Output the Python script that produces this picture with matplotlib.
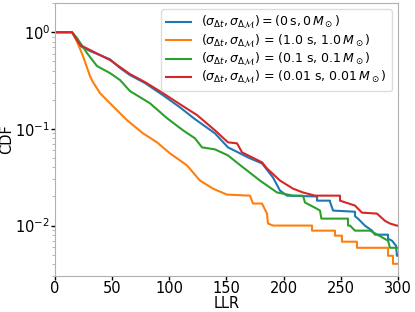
import numpy as np
import matplotlib
matplotlib.use('Agg')
import matplotlib.pyplot as plt

# survival curves (LLR, CDF)
llr_0 = [0, 14.9, 21.9, 30.6, 48.1, 56.9, 65.6, 78.7, 94.5, 109.3, 122.5, 139.9, 151.3,
         160.1, 168.8, 181.1, 190.7, 196.8, 202.9, 229.2, 229.2, 240.5, 240.5, 243.2,
         262.4, 262.4, 265.0, 271.1, 277.3, 279.9, 291.3, 291.3, 294.8, 298.3, 299.1, 300]
cdf_0 = [1, 1, 0.721, 0.640, 0.525, 0.426, 0.360, 0.298, 0.223, 0.167, 0.126, 0.0900, 0.0644,
         0.0572, 0.0507, 0.0439, 0.0314, 0.0230, 0.0204, 0.0200, 0.0181, 0.0181, 0.0177, 0.0143,
         0.0139, 0.0125, 0.0118, 0.00998, 0.00886, 0.00805, 0.00805, 0.00730, 0.00697, 0.00618, 0.00487, 0.00487]

llr_1 = [0, 14.9, 17.5, 24.5, 30.6, 33.2, 39.4, 48.1, 63.0, 77.0, 89.2, 100.6, 115.5, 126.8,
         138.2, 150.4, 170.6, 173.2, 181.1, 185.4, 186.3, 190.7, 224.8, 224.8, 244.9, 244.9,
         251.0, 251.0, 264.1, 264.1, 291.3, 291.3, 295.6, 295.6, 300]
cdf_1 = [1, 1, 0.894, 0.567, 0.352, 0.305, 0.234, 0.184, 0.123, 0.0900, 0.0726, 0.0558, 0.0419, 0.0292,
         0.0241, 0.0209, 0.0204, 0.0169, 0.0169, 0.0133, 0.0105, 0.0100, 0.0100, 0.00886, 0.00886, 0.00786,
         0.00786, 0.00681, 0.00681, 0.00589, 0.00589, 0.00487, 0.00487, 0.00402, 0.00402]

llr_2 = [0, 14.9, 19.2, 28.0, 36.7, 48.1, 56.9, 65.6, 83.1, 98.0, 112.0, 122.5, 128.6, 139.9,
         151.3, 160.1, 179.3, 194.2, 208.2, 216.9, 218.7, 227.4, 231.8, 233.0, 256.3, 256.3,
         258.0, 262.4, 275.5, 282.0, 291.3, 293.0, 300]
cdf_2 = [1, 1, 0.873, 0.609, 0.447, 0.378, 0.320, 0.246, 0.184, 0.129, 0.0967, 0.0798, 0.0644, 0.0614,
         0.0532, 0.0439, 0.0292, 0.0220, 0.0204, 0.0204, 0.0173, 0.0153, 0.0143, 0.0118, 0.0118, 0.0100,
         0.0100, 0.00886, 0.00886, 0.00805, 0.00697, 0.00589, 0.00589]

llr_3 = [0, 14.9, 21.9, 30.6, 48.1, 56.9, 65.6, 78.7, 94.5, 109.3, 124.2, 139.9, 151.3, 159.2,
         163.6, 181.1, 185.4, 196.8, 208.2, 216.9, 227.4, 249.3, 249.3, 262.4, 268.5, 281.6,
         288.6, 293.0, 299.1, 300]
cdf_3 = [1, 1, 0.738, 0.655, 0.515, 0.436, 0.369, 0.305, 0.234, 0.180, 0.139, 0.0967, 0.0726, 0.0709,
         0.0572, 0.0451, 0.0390, 0.0292, 0.0241, 0.0220, 0.0204, 0.0204, 0.0181, 0.0161, 0.0136, 0.0133,
         0.0112, 0.0105, 0.00998, 0.00998]

labels = [r'$(\sigma_{\Delta t}, \sigma_{\Delta \mathcal{M}})=(0\,\mathrm{s}, 0\,M_\odot)$',
          r'$(\sigma_{\Delta t}, \sigma_{\Delta \mathcal{M}})$ = (1.0 s, 1.0$\,M_\odot$)',
          r'$(\sigma_{\Delta t}, \sigma_{\Delta \mathcal{M}})$ = (0.1 s, 0.1$\,M_\odot$)',
          r'$(\sigma_{\Delta t}, \sigma_{\Delta \mathcal{M}})$ = (0.01 s, 0.01$\,M_\odot$)']

fig = plt.figure(figsize=(4.15, 3.12), dpi=100)
ax = fig.add_axes([0.1325, 0.115, 0.8265, 0.875])

ax.plot(llr_0, cdf_0, color='tab:blue', lw=1.5, label=labels[0])
ax.plot(llr_1, cdf_1, color='tab:orange', lw=1.5, label=labels[1])
ax.plot(llr_2, cdf_2, color='tab:green', lw=1.5, label=labels[2])
ax.plot(llr_3, cdf_3, color='tab:red', lw=1.5, label=labels[3])

ax.set_yscale('log')
ax.set_xlim(0, 300)
ax.set_ylim(0.003, 2)
ax.set_xlabel('LLR', fontsize=10.5)
ax.set_ylabel('CDF', fontsize=10.5)
ax.xaxis.set_label_coords(0.5, -0.072)
ax.yaxis.set_label_coords(-0.118, 0.5)
ax.tick_params(axis='both', which='major', labelsize=10.5, length=3, width=1,
               color='black', pad=0.5)
ax.tick_params(axis='y', which='minor', length=2, color='#aaaaaa')
for s in ax.spines.values():
    s.set_color('#b0b0b0')

ax.legend(loc='upper right', fontsize=9, handlelength=2, borderaxespad=0.5,
          labelspacing=0.1, framealpha=1, edgecolor='#dddddd')

plt.savefig('out.png', dpi=100)
